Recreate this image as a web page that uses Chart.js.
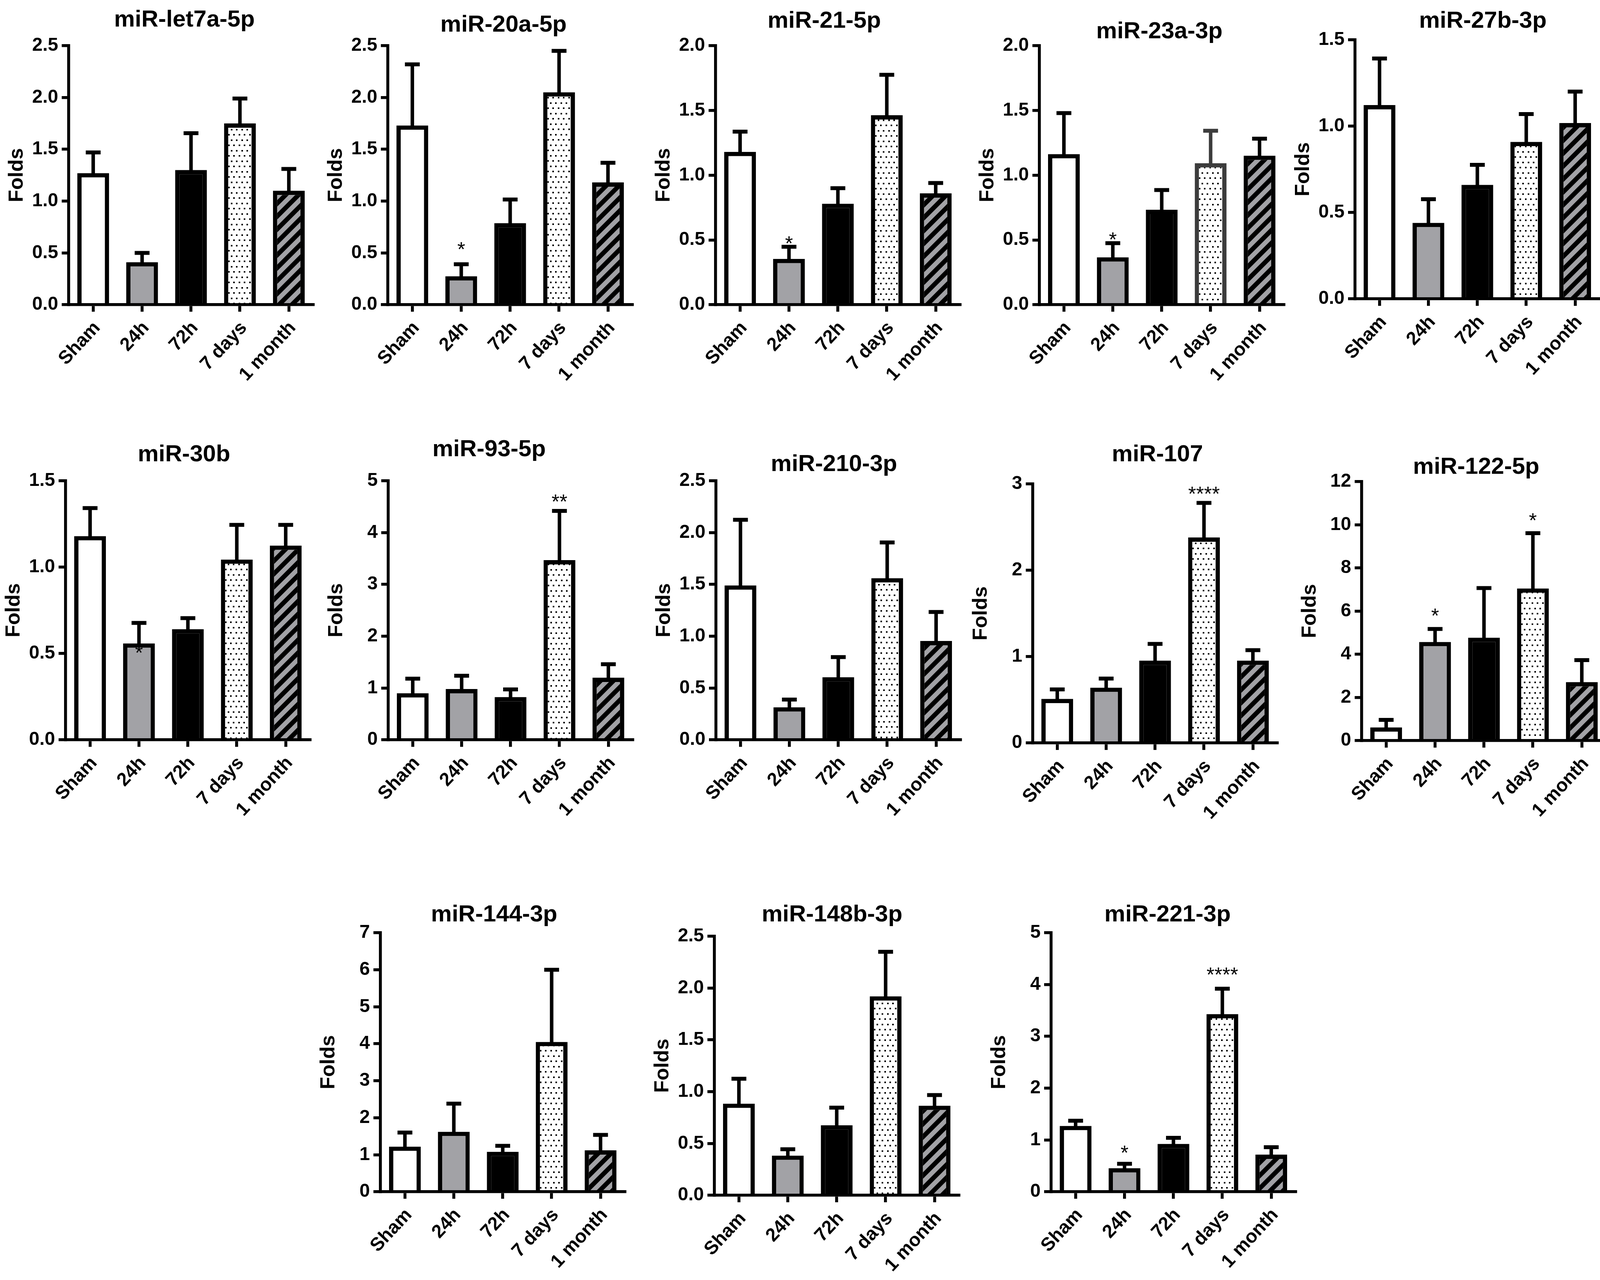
<!DOCTYPE html>
<html>
<head>
<meta charset="utf-8">
<script src="https://cdn.jsdelivr.net/npm/chart.js@4.4.1/dist/chart.umd.min.js"></script>
<style>
html,body{margin:0;padding:0;background:#ffffff;width:4130px;height:3277px;overflow:hidden;position:relative}
canvas{position:absolute}
</style>
</head>
<body>
<script>
// ---------------- DATA ----------------
const categories = ['Sham', '24h', '72h', '7 days', '1 month'];

const titles = ['miR-let7a-5p','miR-20a-5p','miR-21-5p','miR-23a-3p','miR-27b-3p',
                'miR-30b','miR-93-5p','miR-210-3p','miR-107','miR-122-5p',
                'miR-144-3p','miR-148b-3p','miR-221-3p'];

const yMax  = [2.5, 2.5, 2.0, 2.0, 1.5, 1.5, 5, 2.5, 3, 12, 7, 2.5, 5];
const yStep = [0.5, 0.5, 0.5, 0.5, 0.5, 0.5, 1, 0.5, 1, 2, 1, 0.5, 1];

// mean values and top of the error bar (mean + SEM)
const let7aMean  = [1.27, 0.41, 1.30, 1.75, 1.10];
const let7aUpper = [1.47, 0.50, 1.655, 1.99, 1.31];
const mir20aMean  = [1.73, 0.274, 0.787, 2.05, 1.18];
const mir20aUpper = [2.32, 0.39, 1.015, 2.45, 1.37];
const mir21Mean  = [1.18, 0.354, 0.78, 1.463, 0.86];
const mir21Upper = [1.336, 0.447, 0.90, 1.775, 0.94];
const mir23aMean  = [1.163, 0.366, 0.733, 1.093, 1.151];
const mir23aUpper = [1.48, 0.475, 0.885, 1.343, 1.282];
const mir27bMean  = [1.122, 0.44, 0.66, 0.909, 1.018];
const mir27bUpper = [1.392, 0.577, 0.776, 1.07, 1.20];
const mir30bMean  = [1.18, 0.558, 0.641, 1.044, 1.125];
const mir30bUpper = [1.342, 0.677, 0.705, 1.245, 1.245];
const mir93Mean  = [0.90, 0.98, 0.825, 3.47, 1.20];
const mir93Upper = [1.18, 1.237, 0.973, 4.42, 1.46];
const mir210Mean  = [1.49, 0.314, 0.604, 1.56, 0.954];
const mir210Upper = [2.124, 0.388, 0.798, 1.905, 1.234];
const mir107Mean  = [0.51, 0.64, 0.954, 2.38, 0.954];
const mir107Upper = [0.62, 0.745, 1.147, 2.78, 1.075];
const mir122Mean  = [0.61, 4.57, 4.77, 7.05, 2.71];
const mir122Upper = [0.96, 5.17, 7.07, 9.61, 3.73];
const mir144Mean  = [1.22, 1.62, 1.08, 4.05, 1.12];
const mir144Upper = [1.60, 2.38, 1.24, 6.00, 1.535];
const mir148bMean  = [0.884, 0.383, 0.676, 1.92, 0.864];
const mir148bUpper = [1.125, 0.444, 0.846, 2.35, 0.967];
const mir221Mean  = [1.27, 0.455, 0.924, 3.43, 0.716];
const mir221Upper = [1.37, 0.54, 1.04, 3.92, 0.86];

// significance marks and the value level where they sit
const let7aStars  = ['', '', '', '', ''];
const mir20aStars = ['', '*', '', '', ''];
const mir21Stars  = ['', '*', '', '', ''];
const mir23aStars = ['', '*', '', '', ''];
const mir27bStars = ['', '', '', '', ''];
const mir30bStars = ['', '*', '', '', ''];
const mir93Stars  = ['', '', '', '**', ''];
const mir210Stars = ['', '', '', '', ''];
const mir107Stars = ['', '', '', '****', ''];
const mir122Stars = ['', '*', '', '*', ''];
const mir144Stars = ['', '', '', '', ''];
const mir148bStars= ['', '', '', '', ''];
const mir221Stars = ['', '*', '', '****', ''];

const let7aStarY  = [0, 0, 0, 0, 0];
const mir20aStarY = [0, 0.58, 0, 0, 0];
const mir21StarY  = [0, 0.51, 0, 0, 0];
const mir23aStarY = [0, 0.54, 0, 0, 0];
const mir27bStarY = [0, 0, 0, 0, 0];
const mir30bStarY = [0, 0.53, 0, 0, 0];
const mir93StarY  = [0, 0, 0, 4.69, 0];
const mir210StarY = [0, 0, 0, 0, 0];
const mir107StarY = [0, 0, 0, 2.94, 0];
const mir122StarY = [0, 6.0, 0, 10.42, 0];
const mir144StarY = [0, 0, 0, 0, 0];
const mir148bStarY= [0, 0, 0, 0, 0];
const mir221StarY = [0, 0.84, 0, 4.28, 0];

const means  = [let7aMean, mir20aMean, mir21Mean, mir23aMean, mir27bMean, mir30bMean, mir93Mean,
                mir210Mean, mir107Mean, mir122Mean, mir144Mean, mir148bMean, mir221Mean];
const uppers = [let7aUpper, mir20aUpper, mir21Upper, mir23aUpper, mir27bUpper, mir30bUpper, mir93Upper,
                mir210Upper, mir107Upper, mir122Upper, mir144Upper, mir148bUpper, mir221Upper];
const stars  = [let7aStars, mir20aStars, mir21Stars, mir23aStars, mir27bStars, mir30bStars, mir93Stars,
                mir210Stars, mir107Stars, mir122Stars, mir144Stars, mir148bStars, mir221Stars];
const starYs = [let7aStarY, mir20aStarY, mir21StarY, mir23aStarY, mir27bStarY, mir30bStarY, mir93StarY,
                mir210StarY, mir107StarY, mir122StarY, mir144StarY, mir148bStarY, mir221StarY];

// ---------------- LAYOUT (pixels) ----------------
// x: y-axis line position, top: plot top, dy: title centre above plot top, c: title centre right of axis
const layout = [
  {x: 176,  top: 117,  dy: 66, c: 296},
  {x: 993,  top: 117,  dy: 53, c: 296},
  {x: 1832, top: 117,  dy: 63, c: 278},
  {x: 2661, top: 117,  dy: 36, c: 307},
  {x: 3469, top: 102,  dy: 48, c: 327},
  {x: 168,  top: 1231, dy: 67, c: 303},
  {x: 994,  top: 1231, dy: 80, c: 258},
  {x: 1833, top: 1231, dy: 42, c: 302},
  {x: 2644, top: 1239, dy: 75, c: 319},
  {x: 3486, top: 1233, dy: 37, c: 293},
  {x: 974,  top: 2388, dy: 46, c: 291},
  {x: 1829, top: 2397, dy: 55, c: 301},
  {x: 2691, top: 2388, dy: 46, c: 298}
];
const PLOT_W = 626, PLOT_H = 663, LW = 180, TP = 10, TITLE_LH = 72, XH = 240;
const GRAY = '#a2a2a6';
const EDGE_GRAY = '#3c3c3c';

Chart.defaults.font.family = "'Liberation Sans', Arial, sans-serif";
Chart.defaults.color = '#000';

function dotPattern() {
  const c = document.createElement('canvas');
  c.width = 27; c.height = 27;
  const g = c.getContext('2d');
  g.fillStyle = '#fff'; g.fillRect(0, 0, 27, 27);
  g.fillStyle = '#000';
  [[1,1],[14,1],[7,14],[21,14]].forEach(([x, y]) => g.fillRect(x, y, 4, 4));
  return g.createPattern(c, 'repeat');
}
function hatchPattern() {
  const s = 33, t = 16.5;
  const c = document.createElement('canvas');
  c.width = s; c.height = s;
  const g = c.getContext('2d');
  g.fillStyle = GRAY; g.fillRect(0, 0, s, s);
  g.fillStyle = '#000';
  for (let k = -1; k <= 2; k++) {
    g.beginPath();
    g.moveTo(0, k * s + s);
    g.lineTo(s, k * s);
    g.lineTo(s, k * s + t);
    g.lineTo(0, k * s + s + t);
    g.closePath();
    g.fill();
  }
  return g.createPattern(c, 'repeat');
}

titles.forEach((title, k) => {
  const L = layout[k];
  const bp = Math.max(0, L.dy - 36);
  const W = 2 * (L.c + LW);
  const R = W - LW - PLOT_W;
  const H = TP + TITLE_LH + bp + PLOT_H + XH;
  const cv = document.createElement('canvas');
  cv.width = W; cv.height = H;
  cv.style.left = (L.x - LW) + 'px';
  cv.style.top = (L.top - TP - TITLE_LH - bp) + 'px';
  cv.style.width = W + 'px'; cv.style.height = H + 'px';
  document.body.appendChild(cv);

  const edge = categories.map((_, i) => (k === 3 && i === 3) ? EDGE_GRAY : '#000');
  const mean = means[k], upper = uppers[k], st = stars[k], sy = starYs[k];
  const decimals = yStep[k] < 1 ? 1 : 0;

  const errPlugin = {
    id: 'errbars' + k,
    afterDatasetsDraw(chart) {
      const ctx = chart.ctx;
      const meta = chart.getDatasetMeta(0);
      const ys = chart.scales.y;
      ctx.save();
      meta.data.forEach((bar, i) => {
        const x = bar.x;
        const yb = ys.getPixelForValue(mean[i]);
        const yt = ys.getPixelForValue(upper[i]);
        ctx.strokeStyle = edge[i];
        ctx.lineCap = 'butt';
        ctx.lineWidth = 9;
        ctx.beginPath(); ctx.moveTo(x, yb + 2); ctx.lineTo(x, yt); ctx.stroke();
        ctx.lineWidth = 10;
        ctx.beginPath(); ctx.moveTo(x - 19, yt); ctx.lineTo(x + 19, yt); ctx.stroke();
        if (st[i]) {
          ctx.fillStyle = '#000';
          ctx.font = "normal 52px 'Liberation Sans', Arial, sans-serif";
          ctx.textAlign = 'center';
          ctx.textBaseline = 'alphabetic';
          ctx.fillText(st[i], x, ys.getPixelForValue(sy[i]) + 0.57 * 52);
        }
      });
      ctx.restore();
    }
  };

  new Chart(cv, {
    type: 'bar',
    data: {
      labels: categories,
      datasets: [{
        data: mean,
        backgroundColor: ['#ffffff', GRAY, '#000000', dotPattern(), hatchPattern()],
        borderColor: edge,
        borderWidth: 11,
        borderSkipped: 'start',
        barPercentage: 0.65,
        categoryPercentage: 1.0
      }]
    },
    options: {
      responsive: false,
      devicePixelRatio: 1,
      animation: false,
      layout: {padding: 0},
      plugins: {
        legend: {display: false},
        tooltip: {enabled: false},
        title: {
          display: true, text: title, color: '#000',
          font: {size: 60, weight: 'bold', lineHeight: 1.2},
          padding: {top: TP, bottom: bp}
        }
      },
      scales: {
        x: {
          z: 1,
          offset: true,
          border: {display: true, color: '#000', width: 7.5},
          grid: {offset: false, drawOnChartArea: false, drawTicks: true, tickLength: 18, lineWidth: 7.5, color: '#000'},
          ticks: {font: {size: 48, weight: 'bold'}, color: '#000', minRotation: 47, maxRotation: 47,
                  autoSkip: false, padding: 14, labelOffset: 10},
          afterFit: s => { s.height = XH; }
        },
        y: {
          z: 1,
          min: 0, max: yMax[k],
          border: {display: true, color: '#000', width: 7.5},
          grid: {drawOnChartArea: false, drawTicks: true, tickLength: 18, lineWidth: 7.5, color: '#000'},
          ticks: {stepSize: yStep[k], font: {size: 48, weight: 'bold'}, color: '#000', padding: 9,
                  callback: v => Number(v).toFixed(decimals)},
          title: {display: true, text: 'Folds', color: '#000', font: {size: 52, weight: 'bold', lineHeight: 1.2},
                  padding: {top: 16, bottom: 0}},
          afterFit: s => { s.width = LW; }
        },
        yPad: {
          type: 'linear', position: 'right', display: true,
          border: {display: false}, grid: {display: false}, ticks: {display: false},
          afterFit: s => { s.width = R; }
        }
      }
    },
    plugins: [errPlugin]
  });
});
</script>
</body>
</html>
